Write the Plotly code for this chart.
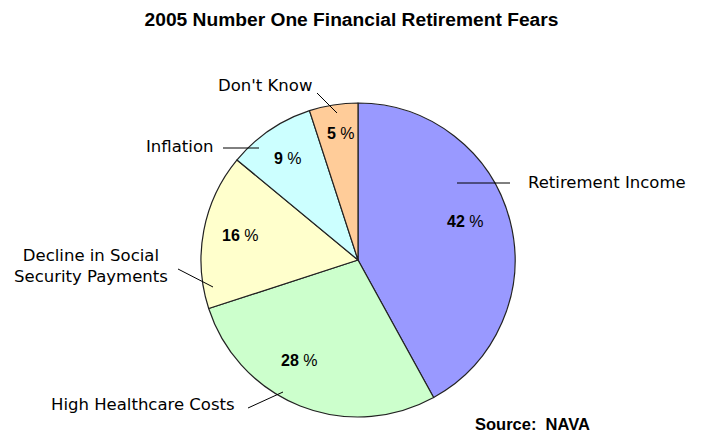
import math
import plotly.graph_objects as go

# ---- data ----
categories = ["Retirement Income", "High Healthcare Costs",
              "Decline in Social<br>Security Payments", "Inflation", "Don't Know"]
values = [42, 28, 16, 9, 5]
colors = ["#9999FF", "#CCFFCC", "#FFFFCC", "#CCFFFF", "#FFCC99"]
title_text = "2005 Number One Financial Retirement Fears"
source_text = "Source:  NAVA"

W, H = 702, 433

def px(x, y):
    return x / W, 1 - y / H

# layout: pie centre / radius (pixels)
cx, cy, r = 358, 260, 157

# layout: placement of percentage labels relative to each slice's mid-angle
pct_radius = [0.723, 0.745, 0.767, 0.788, 0.816]
pct_angle_shift = [-5.2, 8.7, 0.7, -0.3, 1.4]

# layout positions (pixels) for outside labels and leader lines
label_pos = [  # (x, y, xanchor)
    (526, 183, "left"),
    (143, 404, "center"),
    (91, 266, "center"),
    (180, 146, "center"),
    (265, 85, "center"),
]
leader = [
    ((457, 183), (510, 183)),
    ((248, 408), (283, 392)),
    ((178, 269), (213, 287)),
    ((223, 148), (259, 148)),
    ((317, 93), (337, 113)),
]

fig = go.Figure(go.Pie(
    labels=categories,
    values=values,
    sort=False,
    direction="clockwise",
    rotation=0,
    marker=dict(colors=colors, line=dict(color="#222222", width=1.2)),
    textinfo="none",
    hoverinfo="label+percent",
    showlegend=False,
    domain=dict(x=[(cx - r) / W, (cx + r) / W], y=[1 - (cy + r) / H, 1 - (cy - r) / H]),
))

annotations = []

# percentage labels, positioned from the cumulative slice angles
total = sum(values)
cum = 0
pct_font = dict(family="Liberation Sans, Arial", size=16, color="black")
for v, fr, sh in zip(values, pct_radius, pct_angle_shift):
    mid = (cum + v / 2) / total * 360 + sh
    cum += v
    x = cx + fr * r * math.sin(math.radians(mid))
    y = cy - fr * r * math.cos(math.radians(mid))
    ax_, ay_ = px(x, y)
    annotations.append(dict(x=ax_, y=ay_, xref="paper", yref="paper",
                            text="<b>%d</b> %%" % round(v / total * 100),
                            showarrow=False, xanchor="center", yanchor="middle",
                            font=pct_font))

label_font = dict(family="DejaVu Sans", size=16.5, color="black")
for (x, y, anc), txt in zip(label_pos, categories):
    ax_, ay_ = px(x, y)
    annotations.append(dict(x=ax_, y=ay_, xref="paper", yref="paper", text=txt,
                            showarrow=False, xanchor=anc, yanchor="middle",
                            align="center", font=label_font))

sx, sy = px(532, 424)
annotations.append(dict(x=sx, y=sy, xref="paper", yref="paper",
                        text="<b>" + source_text + "</b>", showarrow=False,
                        xanchor="center", yanchor="middle",
                        font=dict(family="Liberation Sans, Arial", size=16.5, color="black")))

shapes = []
for (p0, p1) in leader:
    x0, y0 = px(*p0)
    x1, y1 = px(*p1)
    shapes.append(dict(type="line", xref="paper", yref="paper", x0=x0, y0=y0, x1=x1, y1=y1,
                       line=dict(color="black", width=1)))

fig.update_layout(
    width=W, height=H,
    margin=dict(l=0, r=0, t=0, b=0),
    paper_bgcolor="white", plot_bgcolor="white",
    title=dict(text="<b>" + title_text + "</b>", x=0.5007, y=1 - 19 / H,
               xanchor="center", yanchor="middle",
               font=dict(family="Liberation Sans, Arial", size=19.2, color="black")),
    annotations=annotations,
    shapes=shapes,
)

fig.write_html("out.html")
